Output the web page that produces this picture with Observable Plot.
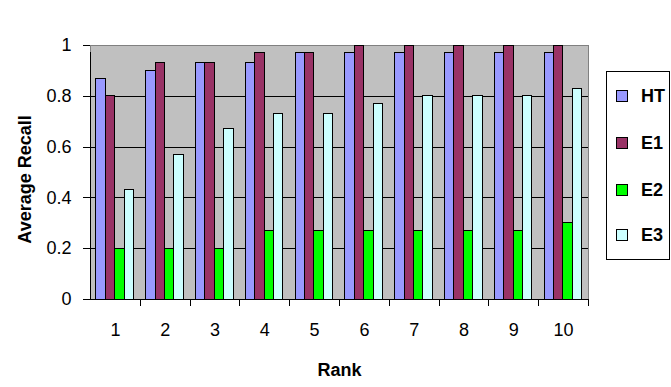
<!DOCTYPE html>
<html>
<head>
<meta charset="utf-8">
<script src="https://cdn.jsdelivr.net/npm/d3@7"></script>
<script src="https://cdn.jsdelivr.net/npm/@observablehq/plot@0.6"></script>
<style>
  html, body { margin: 0; padding: 0; background: #fff; }
  #wrap { position: relative; width: 671px; height: 387px; font-family: "Liberation Sans", Arial, sans-serif; }
  #wrap svg { shape-rendering: crispEdges; }
  #wrap svg text { shape-rendering: auto; }
  #legend { position: absolute; left: 606px; top: 71px; width: 62px; height: 187px; border: 1px solid #000; background: #fff; }
  .item { position: absolute; left: 9px; height: 20px; display: flex; align-items: center; font-weight: bold; font-size: 18px; color: #000; }
  .sw { width: 10px; height: 10px; border: 1px solid #000; margin-right: 13px; }
</style>
</head>
<body>
<div id="wrap"></div>
<script>
const ranks = [1, 2, 3, 4, 5, 6, 7, 8, 9, 10];
const seriesNames = ["HT", "E1", "E2", "E3"];
const seriesColors = ["#9999FF", "#993366", "#00FF00", "#CCFFFF"];
const HT = [0.87, 0.90, 0.93, 0.93, 0.97, 0.97, 0.97, 0.97, 0.97, 0.97];
const E1 = [0.80, 0.93, 0.93, 0.97, 0.97, 1.00, 1.00, 1.00, 1.00, 1.00];
const E2 = [0.20, 0.20, 0.20, 0.27, 0.27, 0.27, 0.27, 0.27, 0.27, 0.30];
const E3 = [0.43, 0.57, 0.67, 0.73, 0.73, 0.77, 0.80, 0.80, 0.80, 0.83];
const yTicks = [0, 0.2, 0.4, 0.6, 0.8, 1];
const gridTicks = [0.2, 0.4, 0.6, 0.8];

const seriesValues = [HT, E1, E2, E3];

const W = 671, H = 387;
const mL = 90, mR = 83, mT = 45, mB = 88;
const band = (W - mL - mR) / ranks.length;
const padLeft = 5.8, barW = 9.4;

const font = '"Liberation Sans", Arial, sans-serif';

const barMarks = seriesNames.map((name, i) =>
  Plot.barY(ranks.map((r, j) => ({rank: r, value: seriesValues[i][j], series: name})), {
    x: "rank",
    y: "value",
    fill: seriesColors[i],
    stroke: "#000",
    strokeWidth: 1,
    insetLeft: padLeft + barW * i,
    insetRight: band - padLeft - barW * (i + 1)
  })
);

const chart = Plot.plot({
  width: W,
  height: H,
  marginLeft: mL,
  marginRight: mR,
  marginTop: mT,
  marginBottom: mB,
  style: {fontFamily: font, fontSize: "18px", background: "#fff", color: "#000", overflow: "visible"},
  x: {type: "band", domain: ranks, padding: 0, round: false, axis: null},
  y: {domain: [0, 1], axis: null},
  marks: [
    Plot.frame({fill: "#C0C0C0", stroke: "#808080"}),
    Plot.ruleY(gridTicks, {stroke: "#000", strokeWidth: 1}),
    ...barMarks,
    // axis lines
    Plot.ruleY([0], {stroke: "#000", insetLeft: -7}),
    Plot.ruleX([ranks[0]], {x: d => d, y1: 0, y2: 1, dx: -band / 2, stroke: "#000", insetBottom: -7}),
    // category boundary ticks
    Plot.ruleX(ranks.slice(1), {x: d => d, y1: 0, y2: 0, dx: -band / 2, stroke: "#000", insetBottom: -7}),
    Plot.ruleX([ranks[ranks.length - 1]], {x: d => d, y1: 0, y2: 0, dx: band / 2, stroke: "#000", insetBottom: -7}),
    // y ticks
    Plot.axisY({ticks: yTicks, tickSize: 7, tickPadding: 12, tickFormat: d => String(d), fontSize: 18, label: null}),
    Plot.axisX({tickSize: 0, tickPadding: 24, fontSize: 18, label: null}),
    Plot.text(["Rank"], {frameAnchor: "bottom", dy: 76, fontWeight: "bold", fontSize: 18, text: d => d}),
    Plot.text(["Average Recall"], {frameAnchor: "left", textAnchor: "middle", dx: -65, dy: 7, rotate: -90, fontWeight: "bold", fontSize: 18, text: d => d})
  ]
});

const wrap = document.getElementById("wrap");
wrap.appendChild(chart);

const legend = document.createElement("div");
legend.id = "legend";
const itemTops = [14, 61, 108, 153];
seriesNames.forEach((name, i) => {
  const it = document.createElement("div");
  it.className = "item";
  it.style.top = itemTops[i] + "px";
  const sw = document.createElement("div");
  sw.className = "sw";
  sw.style.background = seriesColors[i];
  it.appendChild(sw);
  const t = document.createElement("span");
  t.textContent = name;
  it.appendChild(t);
  legend.appendChild(it);
});
wrap.appendChild(legend);
</script>
</body>
</html>
